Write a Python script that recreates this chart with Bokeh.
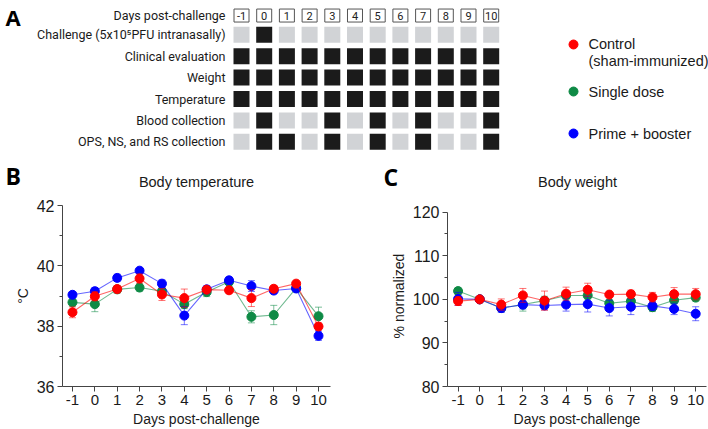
from bokeh.plotting import figure
from bokeh.models import Range1d, FixedTicker
from bokeh.layouts import column, row
from bokeh.embed import file_html
from bokeh.resources import INLINE
from bokeh.core.properties import value

# ---------------- data ----------------
days = [-1, 0, 1, 2, 3, 4, 5, 6, 7, 8, 9, 10]
day_labels = ["-1", "0", "1", "2", "3", "4", "5", "6", "7", "8", "9", "10"]
header_label = "Days post-challenge"
tasks = ["Challenge (5x10\u2075PFU intranasally)", "Clinical evaluation", "Weight",
         "Temperature", "Blood collection", "OPS, NS, and RS collection"]
sched_challenge = [0, 1, 0, 0, 0, 0, 0, 0, 0, 0, 0, 0]
sched_clinical = [1, 1, 1, 1, 1, 1, 1, 1, 1, 1, 1, 1]
sched_weight = [1, 1, 1, 1, 1, 1, 1, 1, 1, 1, 1, 1]
sched_temperature = [1, 1, 1, 1, 1, 1, 1, 1, 1, 1, 1, 1]
sched_blood = [0, 1, 0, 0, 1, 0, 1, 0, 1, 0, 0, 1]
sched_swabs = [0, 1, 1, 0, 1, 0, 1, 0, 1, 0, 0, 1]
schedule = [sched_challenge, sched_clinical, sched_weight, sched_temperature, sched_blood, sched_swabs]

panel_titles = ["Body temperature", "Body weight"]
panel_letters = ["A", "B", "C"]

groups = ["Control", "Single dose", "Prime + booster"]
group_sub = "(sham-immunized)"
group_colors = ["#ff0000", "#0e8a45", "#0000ff"]

temp_control = [38.46, 38.99, 39.23, 39.58, 39.05, 38.93, 39.21, 39.19, 38.93, 39.24, 39.41, 37.99]
temp_control_sem = [0.18, 0.15, 0.12, 0.15, 0.2, 0.3, 0.1, 0.1, 0.28, 0.1, 0.08, 0.12]
temp_single = [38.79, 38.73, 39.22, 39.28, 39.16, 38.73, 39.13, 39.47, 38.31, 38.37, 39.26, 38.33]
temp_single_sem = [0.12, 0.25, 0.12, 0.12, 0.15, 0.15, 0.15, 0.1, 0.2, 0.32, 0.1, 0.3]
temp_prime = [39.04, 39.16, 39.6, 39.84, 39.41, 38.35, 39.22, 39.52, 39.33, 39.18, 39.25, 37.68]
temp_prime_sem = [0.08, 0.12, 0.12, 0.08, 0.12, 0.3, 0.12, 0.1, 0.18, 0.1, 0.08, 0.15]

wt_control = [99.6, 100.0, 98.8, 100.9, 99.7, 101.3, 102.2, 101.1, 101.2, 100.5, 101.2, 101.2]
wt_control_sem = [1.0, 0.0, 1.3, 1.6, 2.2, 1.5, 1.5, 0.5, 0.9, 1.1, 1.5, 1.3]
wt_single = [101.9, 100.0, 98.0, 98.8, 99.7, 100.9, 100.9, 99.1, 99.6, 98.2, 99.8, 100.4]
wt_single_sem = [0.8, 0.0, 0.8, 1.5, 1.0, 0.8, 0.8, 0.8, 0.6, 1.0, 0.8, 0.8]
wt_prime = [100.1, 100.0, 98.0, 98.8, 98.6, 98.8, 98.9, 98.0, 98.3, 98.5, 97.8, 96.7]
wt_prime_sem = [1.5, 0.0, 1.0, 1.0, 1.0, 1.5, 1.8, 1.8, 1.8, 1.0, 1.3, 1.6]

temp_ticks = [36, 38, 40, 42]
temp_minor = [37, 39, 41]
wt_ticks = [80, 90, 100, 110, 120]
wt_minor = [85, 95, 105, 115]

LAB = "Liberation Sans"
ROB = "Roboto"
BOLD = "Open Sans"
DARK = "#1b1b1b"
LIGHT = "#d1d3d6"
TXT = "#1a1a1a"

# ---------------- panel A (plus the B / C headings row) ----------------
top = figure(width=708, height=195, x_range=Range1d(-11.617, 19.573), y_range=Range1d(8.509, -0.603),
             output_backend="svg", toolbar_location=None, min_border=0, title=None,
             x_axis_type=None, y_axis_type=None, outline_line_color=None)

cx, cy, cc = [], [], []
for r, sched in enumerate(schedule):
    for d, s in zip(days, sched):
        cx.append(d)
        cy.append(r + 1)
        cc.append(DARK if s else LIGHT)
top.rect(x=cx, y=cy, width=16, height=16, width_units="screen", height_units="screen",
         fill_color=cc, line_color=None)

hy = 0.1
top.rect(x=days, y=[hy] * len(days), width=15, height=13, width_units="screen", height_units="screen",
         fill_color="white", line_color="#555555", line_width=1)
top.text(x=days, y=[hy] * len(days), text=day_labels, text_align="center",
         text_baseline="middle", text_font=value(ROB), text_font_size="11px", text_color="#222222")

top.text(x=[-1.705] * 7, y=[hy, 1, 2, 3, 4, 5, 6], text=[header_label] + tasks, text_align="right",
         text_baseline="middle", text_font=value(ROB), text_font_size="12.5px", text_color=TXT)

# panel letters
top.text(x=[-11.396], y=[-0.556], text=panel_letters[:1], text_align="left",
         text_baseline="top", text_font=value(BOLD), text_font_style="bold",
         text_font_size="22px", text_color="black")
top.text(x=[-11.396, 5.256], y=[7.598, 7.645], text=panel_letters[1:], text_align="left",
         text_baseline="middle", text_font=value(BOLD), text_font_style="bold",
         text_font_size="23px", text_color="black")
# panel titles
top.text(x=[-2.982, 13.802], y=[7.90, 7.90], text=panel_titles, text_align="center",
         text_baseline="middle", text_font=value(LAB), text_font_size="14.5px", text_color=TXT)

# legend
leg_y = [1.453, 3.650, 5.612]
top.scatter(x=[13.626] * 3, y=leg_y, size=9, fill_color=group_colors, line_color=group_colors)
top.text(x=[14.286] * 4, y=[leg_y[0], 2.201, leg_y[1], leg_y[2]],
         text=[groups[0], group_sub, groups[1], groups[2]], text_align="left", text_baseline="middle",
         text_font=value(LAB), text_font_size="14.5px", text_color=TXT)


# ---------------- line panels ----------------
def style_axes(p, yt, ym, ylabel, ybounds):
    p.xgrid.visible = False
    p.ygrid.visible = False
    p.xaxis.ticker = FixedTicker(ticks=days)
    p.xaxis.major_label_overrides = {d: s for d, s in zip(days, day_labels)}
    p.yaxis.ticker = FixedTicker(ticks=yt, minor_ticks=ym)
    p.yaxis.bounds = ybounds
    for ax in (p.xaxis[0], p.yaxis[0]):
        ax.axis_line_color = "#444444"
        ax.major_tick_line_color = "#444444"
        ax.minor_tick_line_color = "#444444"
        ax.major_tick_out = 5
        ax.major_tick_in = 0
        ax.minor_tick_out = 3
        ax.minor_tick_in = 0
        ax.major_label_text_font = LAB
        ax.major_label_text_color = TXT
        ax.axis_label_text_font = LAB
        ax.axis_label_text_font_style = "normal"
        ax.axis_label_text_color = TXT
        ax.axis_label_text_font_size = "14px"
        ax.major_label_standoff = 3
        ax.axis_label_standoff = 3
    p.xaxis.major_label_text_font_size = "15px"
    p.yaxis.major_label_text_font_size = "16px"
    p.xaxis.axis_label = header_label
    p.yaxis.axis_label = ylabel


def draw_series(p, vals, sems, color):
    lo = [v - s for v, s in zip(vals, sems)]
    hi = [v + s for v, s in zip(vals, sems)]
    p.segment(x0=days, y0=lo, x1=days, y1=hi, line_color=color, line_alpha=0.55, line_width=1)
    p.scatter(x=days, y=lo, marker="dash", size=7, line_color=color, line_alpha=0.55, line_width=1)
    p.scatter(x=days, y=hi, marker="dash", size=7, line_color=color, line_alpha=0.55, line_width=1)
    p.line(x=days, y=vals, line_color=color, line_alpha=0.6, line_width=1.1)
    p.scatter(x=days, y=vals, size=9, fill_color=color, line_color=color)


pB = figure(width=354, height=234, x_range=Range1d(-1.446, 10.536), y_range=Range1d(36, 42),
            output_backend="svg", toolbar_location=None, outline_line_color=None, title=None,
            min_border_left=62, min_border_right=24, min_border_top=10, min_border_bottom=43)
style_axes(pB, temp_ticks, temp_minor, "\u00b0C", (36, 42))
draw_series(pB, temp_single, temp_single_sem, group_colors[1])
draw_series(pB, temp_prime, temp_prime_sem, group_colors[2])
draw_series(pB, temp_control, temp_control_sem, group_colors[0])

pC = figure(width=354, height=234, x_range=Range1d(-1.49, 10.5), y_range=Range1d(80, 121.54),
            output_backend="svg", toolbar_location=None, outline_line_color=None, title=None,
            min_border_left=93, min_border_right=2, min_border_top=10, min_border_bottom=43)
style_axes(pC, wt_ticks, wt_minor, "% normalized", (80, 120))
draw_series(pC, wt_single, wt_single_sem, group_colors[1])
draw_series(pC, wt_prime, wt_prime_sem, group_colors[2])
draw_series(pC, wt_control, wt_control_sem, group_colors[0])

layout = column(top, row(pB, pC))
open("out.html", "w").write(file_html(layout, INLINE))
